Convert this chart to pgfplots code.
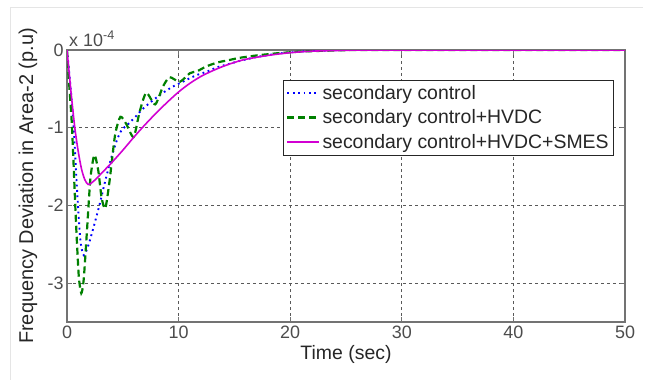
\documentclass[border=0pt]{standalone}
\usepackage{fontspec}
\setmainfont{Liberation Sans}
\usepackage{pgfplots}
\pgfplotsset{compat=1.18}
\definecolor{mgreen}{RGB}{0,128,0}
\definecolor{mmag}{RGB}{210,0,210}
\definecolor{mblue}{RGB}{0,0,255}
\begin{document}
\begin{tikzpicture}[x=1bp,y=1bp]
\useasboundingbox (0,0) rectangle (653,380);
\draw[black!10, line width=0.8bp] (10,0) -- (10,373) -- (643,373);
\begin{axis}[
  name=ax,
  at={(67bp,58bp)}, anchor=south west, scale only axis,
  width=558bp, height=272bp,
  xmin=0, xmax=50, ymin=-3.5, ymax=0,
  xtick={0,10,...,50}, ytick={-3,-2,-1,0},
  grid=major,
  grid style={dash pattern=on 3bp off 3bp, black!65, line width=0.7bp},
  axis line style={black!55, line width=1.1bp},
  tick style={black!55, line width=0.8bp},
  tick align=inside, major tick length=5bp,
  /pgf/number format/assume math mode=true,
  ticklabel style={font=\fontsize{18}{21}\selectfont, text=black!70},
  scaled y ticks=false,
  xlabel={Time (sec)},
  ylabel={Frequency Deviation in Area-2 (p.u)},
  xlabel style={font=\fontsize{19.5}{22}\selectfont, text=black!85, at={(rel axis cs:0.5,-0.121)}, anchor=center},
  ylabel style={font=\fontsize{20}{22}\selectfont, text=black!85, at={(rel axis cs:-0.07,0.5)}, anchor=center},
  legend style={at={(rel axis cs:0.980,0.890)}, anchor=north east,
    draw=black!85, inner xsep=3bp, inner ysep=3bp,
    font=\fontsize{19.5}{22}\selectfont, row sep=5bp,
    nodes={text=black!85}},
  legend cell align=left,
  legend image code/.code={\draw[#1] (0bp,0bp) -- (32bp,0bp);},
  clip=true,
]
\addplot[mblue, line width=1.9bp, dash pattern=on 1.8bp off 3.6bp, smooth, tension=0.4] coordinates {
(0,0)(0.3,-0.45)(0.6,-1.0)(0.9,-1.8)(1.2,-2.45)(1.5,-2.64)(1.9,-2.52)(2.4,-2.27)(2.9,-2.0)
(3.4,-1.7)(4.0,-1.37)(4.5,-1.15)(4.9,-1.03)(5.5,-0.95)(6.0,-0.88)(6.7,-0.77)(7.5,-0.67)
(8.5,-0.56)(9.5,-0.47)(10.5,-0.40)(11.5,-0.33)(12.5,-0.28)(13.5,-0.22)(14.5,-0.18)
(15.5,-0.14)(17,-0.09)(19,-0.045)(21,-0.02)(23,-0.008)(26,0)(50,0)};
\addlegendentry{secondary control}
\addplot[mgreen, line width=2.2bp, dash pattern=on 7bp off 4bp, smooth, tension=0.4] coordinates {
(0,0)(0.2,-0.45)(0.45,-1.0)(0.8,-2.2)(1.05,-2.9)(1.28,-3.13)(1.5,-2.95)(1.8,-2.3)(2.1,-1.65)
(2.45,-1.35)(2.8,-1.55)(3.1,-1.9)(3.43,-2.04)(3.8,-1.7)(4.3,-1.1)(4.78,-0.86)(5.3,-0.95)
(5.97,-1.12)(6.5,-0.8)(7.1,-0.55)(7.9,-0.70)(8.6,-0.47)(9.2,-0.35)(10.1,-0.41)(11,-0.30)
(11.7,-0.27)(12.5,-0.21)(13.5,-0.16)(14.5,-0.13)(15.5,-0.10)(17,-0.07)(19,-0.04)(21,-0.02)
(23,-0.01)(26,0)(30,0)(50,0)};
\addlegendentry{secondary control+HVDC}
\addplot[mmag, line width=1.6bp, smooth, tension=0.5] coordinates {
(0,0)(0.2,-0.3)(0.4,-0.6)(0.7,-1.0)(1.0,-1.3)(1.3,-1.53)(1.6,-1.67)(1.9,-1.73)(2.2,-1.71)
(2.6,-1.66)(3,-1.6)(4,-1.45)(5,-1.29)(6,-1.12)(7,-0.96)(8,-0.81)(9,-0.67)(10,-0.54)
(11,-0.43)(12,-0.34)(13,-0.27)(14,-0.21)(15,-0.16)(16,-0.12)(18,-0.07)(20,-0.035)
(22,-0.015)(25,-0.004)(28,0)(50,0)};
\addlegendentry{secondary control+HVDC+SMES}
\end{axis}
\node[anchor=base west, font=\fontsize{18}{21}\selectfont, text=black!70, inner sep=0pt]
  at ([xshift=2bp, yshift=4bp]ax.north west) {x 10\textsuperscript{-4}};
\end{tikzpicture}
\end{document}
